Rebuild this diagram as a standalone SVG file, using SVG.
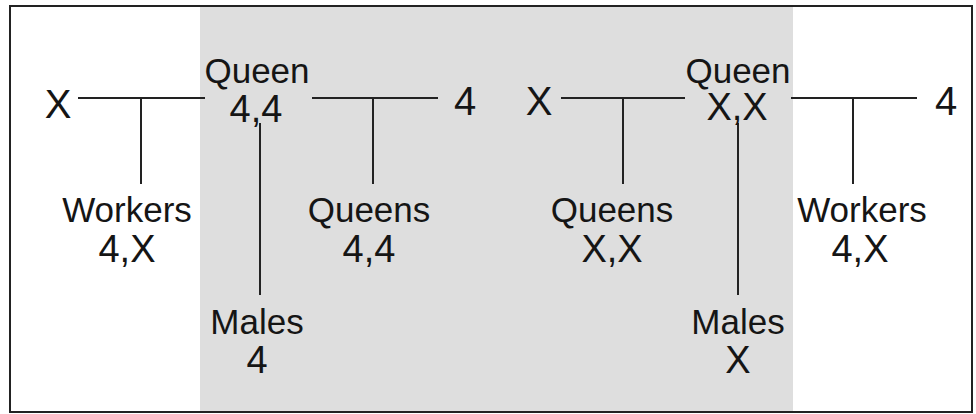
<svg xmlns="http://www.w3.org/2000/svg" width="976" height="414" viewBox="0 0 976 414">
<style>
text{font-family:"Liberation Sans",Arial,sans-serif;fill:#151515;text-anchor:middle}
.lab{font-size:35px}
.pair{font-size:38px}
.one{font-size:40px}
.ln{stroke:#222;stroke-width:2;fill:none}
</style>
<rect x="0" y="0" width="976" height="414" fill="#fff"/>
<rect x="200" y="6" width="593" height="406" fill="#dedede"/>
<rect x="10" y="6" width="962" height="406" fill="none" stroke="#222" stroke-width="2"/>
<g id="connectors" class="ln">
<path d="M78 98H205M141 98V184"/>
<path d="M312 98H438M373 98V184"/>
<path d="M260 123V295"/>
<path d="M561 98H685M623 98V184"/>
<path d="M791 98H917M853 98V184"/>
<path d="M738 123V295"/>
</g>
<g id="x-left"><text class="one" x="58" y="118">X</text></g>
<g id="queen-left"><text class="lab" x="257" y="83">Queen</text><text class="pair" x="256" y="122">4,4</text></g>
<g id="four-mid"><text class="one" x="465" y="115">4</text></g>
<g id="x-mid"><text class="one" x="539" y="115">X</text></g>
<g id="queen-right"><text class="lab" x="738" y="83">Queen</text><text class="pair" x="737" y="120">X,X</text></g>
<g id="four-right"><text class="one" x="946" y="115">4</text></g>
<g id="workers-left"><text class="lab" x="127" y="222">Workers</text><text class="pair" x="127" y="262">4,X</text></g>
<g id="queens-left"><text class="lab" x="369" y="222">Queens</text><text class="pair" x="369" y="262">4,4</text></g>
<g id="males-left"><text class="lab" x="257" y="334">Males</text><text class="pair" x="257" y="373">4</text></g>
<g id="queens-right"><text class="lab" x="612" y="222">Queens</text><text class="pair" x="612" y="262">X,X</text></g>
<g id="males-right"><text class="lab" x="738" y="334">Males</text><text class="pair" x="738" y="373">X</text></g>
<g id="workers-right"><text class="lab" x="862" y="222">Workers</text><text class="pair" x="860" y="262">4,X</text></g>
</svg>
